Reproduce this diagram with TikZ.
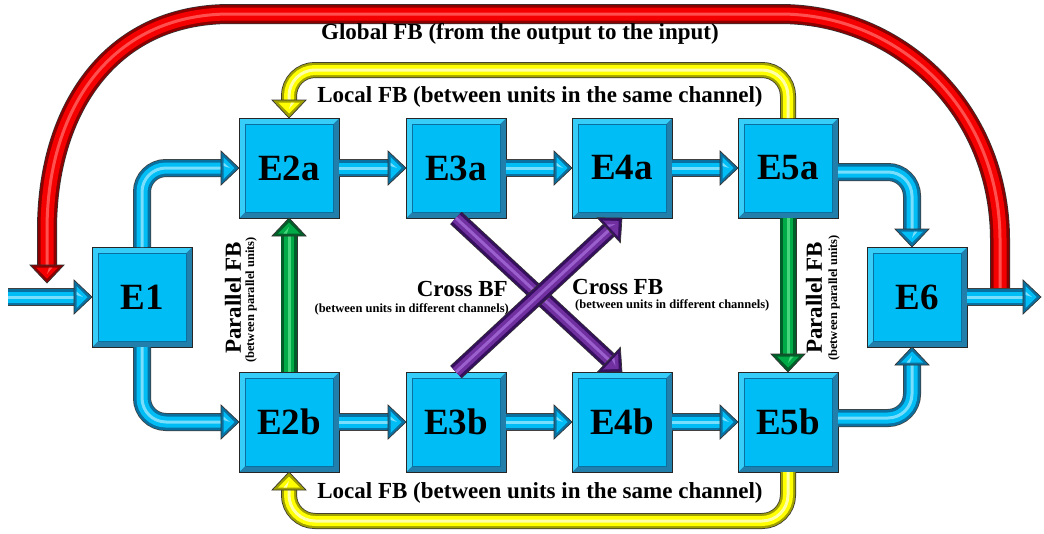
\documentclass[tikz,border=0pt]{standalone}
\usepackage{fontspec}
\setmainfont{Liberation Serif}
\usetikzlibrary{calc}

\definecolor{cyanM}{RGB}{0,190,245}
\definecolor{cyanD}{RGB}{10,112,160}
\definecolor{cyanL}{RGB}{120,222,252}
\definecolor{redM}{RGB}{245,0,0}
\definecolor{redD}{RGB}{140,0,0}
\definecolor{redL}{RGB}{255,80,80}
\definecolor{yelM}{RGB}{255,255,0}
\definecolor{yelD}{RGB}{160,160,0}
\definecolor{yelL}{RGB}{255,255,170}
\definecolor{grnM}{RGB}{0,170,70}
\definecolor{grnD}{RGB}{0,95,40}
\definecolor{grnL}{RGB}{70,215,125}
\definecolor{purM}{RGB}{112,48,160}
\definecolor{purD}{RGB}{55,15,95}
\definecolor{purL}{RGB}{155,95,205}

% bevelled arrow head: tip at #1, pointing at angle #2
\newcommand\fathead[5]{%
  \begin{scope}[shift={#1}, rotate=#2]
    \filldraw[fill=#3, draw=black!80, line width=0.7pt, line join=miter]
      (0pt,0pt) -- (-18pt,17pt) -- (-18pt,-17pt) -- cycle;
    \fill[#4] (-4.5pt,0pt) -- (-15.5pt,11pt) -- (-15.5pt,-11pt) -- cycle;
    \fill[#5] (-9pt,0pt) -- (-15.5pt,5.5pt) -- (-15.5pt,2pt) -- cycle;
  \end{scope}}

\tikzset{
  ebox/.style={draw=black!85, line width=0.8pt, fill=cyanM,
    minimum size=100pt, inner sep=0pt, outer sep=0pt,
    font=\fontsize{37}{40}\selectfont\bfseries,
    path picture={
      \fill[cyanD!90]
        (path picture bounding box.south west) -- (path picture bounding box.south east)
        -- (path picture bounding box.north east)
        -- ([shift={(-6pt,-6pt)}]path picture bounding box.north east)
        -- ([shift={(-6pt,6pt)}]path picture bounding box.south east)
        -- ([shift={(6pt,6pt)}]path picture bounding box.south west) -- cycle;
      \fill[cyanL!45!cyanM]
        (path picture bounding box.south west) -- (path picture bounding box.north west)
        -- (path picture bounding box.north east)
        -- ([shift={(-6pt,-6pt)}]path picture bounding box.north east)
        -- ([shift={(6pt,-6pt)}]path picture bounding box.north west)
        -- ([shift={(6pt,6pt)}]path picture bounding box.south west) -- cycle;
      \draw[cyanD, line width=0.6pt]
        ([shift={(6pt,6pt)}]path picture bounding box.south west)
        rectangle ([shift={(-6pt,-6pt)}]path picture bounding box.north east);
    }},
  fatcyan/.style={line width=18pt, draw=black!75,
    postaction={draw=cyanD, line width=16.5pt},
    postaction={draw=cyanM, line width=11pt},
    postaction={draw=cyanL, line width=3pt}},
  fatred/.style={line width=20pt, draw=black!80,
    postaction={draw=redD, line width=18.5pt},
    postaction={draw=redM, line width=13pt},
    postaction={draw=redL, line width=3pt}},
  fatyellow/.style={line width=16pt, draw=black!80,
    postaction={draw=yelD, line width=14.5pt},
    postaction={draw=yelM, line width=10pt},
    postaction={draw=yelL, line width=3pt}},
  fatgreen/.style={line width=17pt, draw=black!80,
    postaction={draw=grnD, line width=15.5pt},
    postaction={draw=grnM, line width=10pt},
    postaction={draw=grnL, line width=3pt}},
  fatpurple/.style={line width=17pt, draw=black!80,
    postaction={draw=purD, line width=15.5pt},
    postaction={draw=purM, line width=10pt},
    postaction={draw=purL, line width=3pt}},
  lab/.style={font=\fontsize{23}{26}\selectfont\bfseries, inner sep=0pt},
  sublab/.style={font=\fontsize{12.5}{14}\selectfont\bfseries, inner sep=0pt},
}

\begin{document}
\begin{tikzpicture}[x=1pt, y=-1pt]
\path[use as bounding box] (0,0) rectangle (1044,533);

% processing units
\node[ebox] (E1)  at (142,297) {E1};
\node[ebox] (E2a) at (289,168) {E2a};
\node[ebox] (E3a) at (456,168) {E3a};
\node[ebox] (E4a) at (622,168) {E4a};
\node[ebox] (E5a) at (788,168) {E5a};
\node[ebox] (E2b) at (289,422) {E2b};
\node[ebox] (E3b) at (456,422) {E3b};
\node[ebox] (E4b) at (622,422) {E4b};
\node[ebox] (E5b) at (788,422) {E5b};
\node[ebox] (E6)  at (917,297) {E6};

\coordinate (in)   at (8,297);
\coordinate (out)  at (1041,297);
\coordinate (gfb)  at (47,283);
\coordinate (ytop) at (0,70);
\coordinate (ybot) at (0,521);

% global feedback
\draw[fatred] ([xshift=33pt]E6.east) -- (1000,240)
  .. controls (1000,110) and (900,14) .. (780,14) -- (230,14)
  .. controls (110,14) and (47,110) .. (47,230) -- ([yshift=17pt]gfb);
\fathead{(gfb)}{-90}{redD}{redM}{redL}

% local feedback
\draw[fatyellow, rounded corners=26pt] (E5a.north) -- (E5a.north |- ytop)
  -- (E2a.north |- ytop) -- ([yshift=17pt]E2a.north);
\fathead{(E2a.north)}{-90}{yelD}{yelM}{yelL}
\draw[fatyellow, rounded corners=26pt] (E5b.south) -- (E5b.south |- ybot)
  -- (E2b.south |- ybot) -- ([yshift=-17pt]E2b.south);
\fathead{(E2b.south)}{90}{yelD}{yelM}{yelL}

% parallel feedback
\draw[fatgreen] (E2b.north) -- ([yshift=-17pt]E2a.south);
\fathead{(E2a.south)}{90}{grnD}{grnM}{grnL}
\draw[fatgreen] (E5a.south) -- ([yshift=17pt]E5b.north);
\fathead{(E5b.north)}{-90}{grnD}{grnM}{grnL}

% cross feedback
\draw[fatpurple] (E3a.south) -- ($(E4b.north)!17pt!(E3a.south)$);
\fathead{(E4b.north)}{-42.85}{purD}{purM}{purL}
\draw[fatpurple] (E3b.north) -- ($(E4a.south)!17pt!(E3b.north)$);
\fathead{(E4a.south)}{42.85}{purD}{purM}{purL}

% forward paths
\draw[fatcyan] (in) -- ([xshift=-17pt]E1.west);
\fathead{(E1.west)}{0}{cyanD}{cyanM}{cyanL}
\draw[fatcyan, rounded corners=24pt] (E1.north) |- ([xshift=-17pt]E2a.west);
\fathead{(E2a.west)}{0}{cyanD}{cyanM}{cyanL}
\draw[fatcyan, rounded corners=24pt] (E1.south) |- ([xshift=-17pt]E2b.west);
\fathead{(E2b.west)}{0}{cyanD}{cyanM}{cyanL}

\draw[fatcyan] (E2a.east) -- ([xshift=-17pt]E3a.west);
\fathead{(E3a.west)}{0}{cyanD}{cyanM}{cyanL}
\draw[fatcyan] (E3a.east) -- ([xshift=-17pt]E4a.west);
\fathead{(E4a.west)}{0}{cyanD}{cyanM}{cyanL}
\draw[fatcyan] (E4a.east) -- ([xshift=-17pt]E5a.west);
\fathead{(E5a.west)}{0}{cyanD}{cyanM}{cyanL}

\draw[fatcyan] (E2b.east) -- ([xshift=-17pt]E3b.west);
\fathead{(E3b.west)}{0}{cyanD}{cyanM}{cyanL}
\draw[fatcyan] (E3b.east) -- ([xshift=-17pt]E4b.west);
\fathead{(E4b.west)}{0}{cyanD}{cyanM}{cyanL}
\draw[fatcyan] (E4b.east) -- ([xshift=-17pt]E5b.west);
\fathead{(E5b.west)}{0}{cyanD}{cyanM}{cyanL}

\draw[fatcyan, rounded corners=24pt] ([yshift=-4pt]E5a.east)
  -| ([xshift=-5pt,yshift=17pt]E6.north);
\fathead{([xshift=-5pt]E6.north)}{-90}{cyanD}{cyanM}{cyanL}
\draw[fatcyan, rounded corners=24pt] ([yshift=4pt]E5b.east)
  -| ([xshift=-5pt,yshift=-17pt]E6.south);
\fathead{([xshift=-5pt]E6.south)}{90}{cyanD}{cyanM}{cyanL}

\draw[fatcyan] (E6.east) -- ([xshift=-17pt]out);
\fathead{(out)}{0}{cyanD}{cyanM}{cyanL}

% labels
\node[lab] (tglob) at (520,34) {Global FB (from the output to the input)};
\node[lab] (tloc1) at (540,97) {Local FB (between units in the same channel)};
\node[lab] (tloc2) at (540,493) {Local FB (between units in the same channel)};
\node[lab, anchor=east] (tcb) at (508,289) {Cross BF};
\node[sublab, anchor=east] (tcbs) at (509,309) {(between units in different channels)};
\node[lab, anchor=west] (tcf) at (572,287) {Cross FB};
\node[sublab, anchor=west] (tcfs) at (575,305) {(between units in different channels)};
\node[lab, rotate=90] (tpl) at (233,298) {Parallel FB};
\node[sublab, rotate=90] (tpls) at (251,300) {(between parallel units)};
\node[lab, rotate=90] (tpr) at (814,298) {Parallel FB};
\node[sublab, rotate=90] (tprs) at (834,298) {(between parallel units)};
\end{tikzpicture}
\end{document}
